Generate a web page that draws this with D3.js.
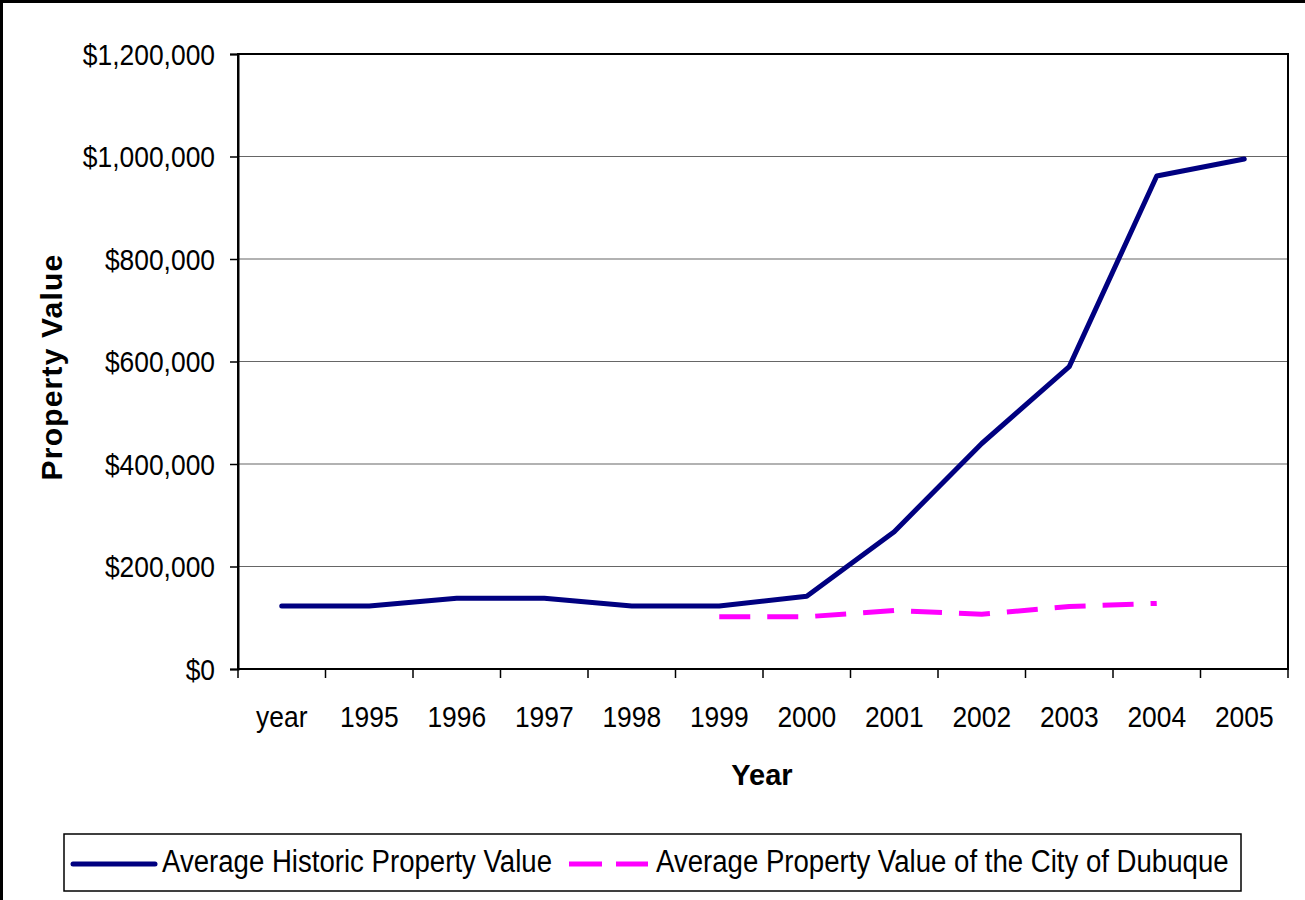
<!DOCTYPE html>
<html>
<head>
<meta charset="utf-8">
<script src="https://cdn.jsdelivr.net/npm/d3@7"></script>
<style>
  html, body { margin: 0; padding: 0; background: #fff; }
  svg { display: block; }
  text { font-family: "Liberation Sans", Arial, sans-serif; fill: #000; }
</style>
</head>
<body>
<svg id="chart" width="1305" height="900"></svg>
<script>
// ---- data ----
const categories = ["year", "1995", "1996", "1997", "1998", "1999", "2000", "2001", "2002", "2003", "2004", "2005"];
const historicValues = [123000, 123000, 138000, 138000, 123000, 123000, 142000, 268000, 440000, 590000, 962000, 995000];
const dubuqueValues = [null, null, null, null, null, 102000, 102000, 114000, 107000, 122000, 128000, null];
const yTicks = [0, 200000, 400000, 600000, 800000, 1000000, 1200000];
const seriesNames = ["Average Historic Property Value", "Average Property Value of the City of Dubuque"];
const xTitle = "Year";
const yTitle = "Property Value";

// ---- layout ----
const W = 1305, H = 900;
const plot = { left: 238, right: 1288, top: 54, bottom: 669 };
const condense = 0.88;

const svg = d3.select("#chart");

function squeeze(sel, k) {
  sel.each(function () {
    const len = this.getComputedTextLength();
    d3.select(this).attr("textLength", len * k).attr("lengthAdjust", "spacingAndGlyphs");
  });
}

// outer border
svg.append("rect").attr("x", 1.5).attr("y", 1.5).attr("width", W + 10).attr("height", H + 10)
  .attr("fill", "none").attr("stroke", "#000").attr("stroke-width", 3);

const x = d3.scaleBand().domain(categories).range([plot.left, plot.right]).padding(0);
const y = d3.scaleLinear().domain([0, 1200000]).range([plot.bottom, plot.top]);
const cx = d => x(d) + x.bandwidth() / 2;

// gridlines
svg.append("g").selectAll("line").data(yTicks.filter(v => v > 0 && v < 1200000)).join("line")
  .attr("x1", plot.left).attr("x2", plot.right)
  .attr("y1", d => y(d)).attr("y2", d => y(d))
  .attr("stroke", "#666").attr("stroke-width", 1.2);

// plot frame
svg.append("rect").attr("x", plot.left).attr("y", plot.top)
  .attr("width", plot.right - plot.left).attr("height", plot.bottom - plot.top)
  .attr("fill", "none").attr("stroke", "#000").attr("stroke-width", 2);

// y axis
const yAxis = svg.append("g").attr("transform", `translate(${plot.left},0)`)
  .call(d3.axisLeft(y).tickValues(yTicks).tickFormat(d3.format("$,")).tickSize(8).tickPadding(15));
yAxis.select(".domain").attr("stroke", "#000").attr("stroke-width", 2);
yAxis.selectAll(".tick line").attr("stroke", "#000").attr("stroke-width", 1.5);
yAxis.selectAll(".tick text").attr("font-size", 30).attr("font-family", "Liberation Sans, Arial, sans-serif")
  .attr("fill", "#000").attr("dy", "0.34em").call(squeeze, condense);

// x axis: ticks at category boundaries
const boundaries = categories.map(c => x(c)).concat([plot.right]);
svg.append("g").selectAll("line").data(boundaries).join("line")
  .attr("x1", d => d).attr("x2", d => d)
  .attr("y1", plot.bottom).attr("y2", plot.bottom + 9)
  .attr("stroke", "#000").attr("stroke-width", 1.5);
svg.append("line").attr("x1", plot.left).attr("x2", plot.right)
  .attr("y1", plot.bottom).attr("y2", plot.bottom)
  .attr("stroke", "#000").attr("stroke-width", 2);
svg.append("g").selectAll("text").data(categories).join("text")
  .attr("x", d => cx(d)).attr("y", 727)
  .attr("text-anchor", "middle").attr("font-size", 30)
  .text(d => d).call(squeeze, condense);

// axis titles
svg.append("text").attr("x", 762).attr("y", 785).attr("text-anchor", "middle")
  .attr("font-size", 29).attr("font-weight", "bold").text(xTitle);
svg.append("text").attr("transform", "translate(62,367) rotate(-90)")
  .attr("text-anchor", "middle").attr("font-size", 30).attr("font-weight", "bold")
  .attr("letter-spacing", 1.2).text(yTitle);

// lines
const line = d3.line().defined(d => d.v != null).x(d => cx(d.c)).y(d => y(d.v));
const histData = categories.map((c, i) => ({ c, v: historicValues[i] }));
const dubData = categories.map((c, i) => ({ c, v: dubuqueValues[i] }));

svg.append("path").datum(histData).attr("d", line)
  .attr("fill", "none").attr("stroke", "#000080").attr("stroke-width", 5)
  .attr("stroke-linejoin", "round").attr("stroke-linecap", "round");
svg.append("path").datum(dubData).attr("d", line)
  .attr("fill", "none").attr("stroke", "#FF00FF").attr("stroke-width", 5)
  .attr("stroke-dasharray", "31,17").attr("stroke-linejoin", "round");

// legend
const legend = svg.append("g");
legend.append("rect").attr("x", 64).attr("y", 834).attr("width", 1177).attr("height", 57)
  .attr("fill", "#fff").attr("stroke", "#000").attr("stroke-width", 1.5);
legend.append("line").attr("x1", 73).attr("x2", 155).attr("y1", 864).attr("y2", 864)
  .attr("stroke", "#000080").attr("stroke-width", 5).attr("stroke-linecap", "round");
legend.append("text").attr("x", 162).attr("y", 872).attr("font-size", 31)
  .text(seriesNames[0]).call(squeeze, 0.89);
legend.append("line").attr("x1", 569).attr("x2", 648).attr("y1", 864).attr("y2", 864)
  .attr("stroke", "#FF00FF").attr("stroke-width", 5).attr("stroke-dasharray", "33,14");
legend.append("text").attr("x", 656).attr("y", 872).attr("font-size", 31)
  .text(seriesNames[1]).call(squeeze, 0.89);
</script>
</body>
</html>
